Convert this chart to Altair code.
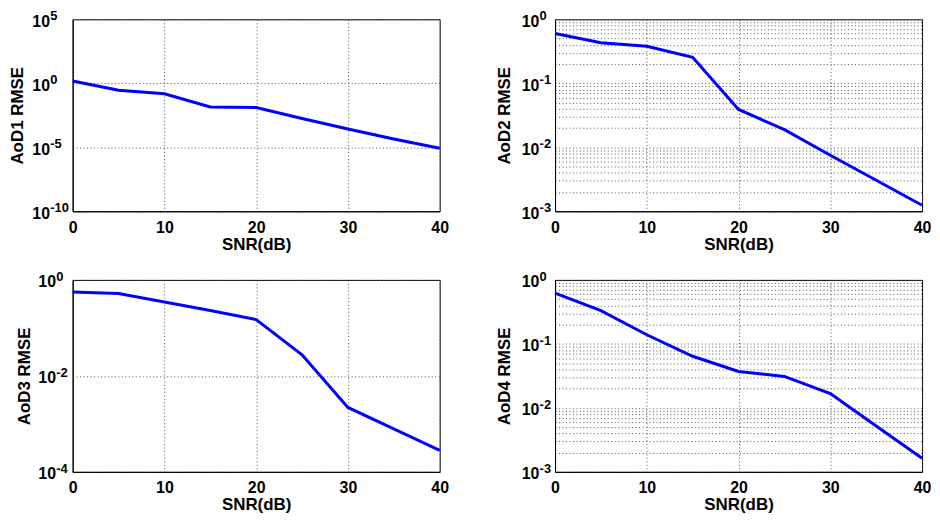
import altair as alt
import pandas as pd

# ---- data ----
SNR_DB = [0, 5, 10, 15, 20, 25, 30, 35, 40]
AOD1_RMSE = [1.5, 0.29, 0.15, 0.014, 0.0126, 0.0018, 2.7e-4, 4.5e-5, 8.3e-6]
AOD2_RMSE = [0.60, 0.43, 0.38, 0.255, 0.039, 0.0189, 0.0075, 0.00305, 0.00124]
AOD3_RMSE = [0.56, 0.52, 0.345, 0.23, 0.149, 0.0276, 0.0022, 7.9e-4, 2.8e-4]
AOD4_RMSE = [0.62, 0.33, 0.139, 0.064, 0.037, 0.031, 0.0167, 0.0052, 0.00163]

X_TICKS = [0, 10, 20, 30, 40]
# exponents of the labelled powers of ten on each y axis
Y1_EXP = [-10, -5, 0, 5]
Y2_EXP = [-3, -2, -1, 0]
Y3_EXP = [-4, -2, 0]
Y4_EXP = [-3, -2, -1, 0]

FONT = "Liberation Sans"
BASE_W = 18.5  # width of the "10" base at 16px bold


def base_label_expr():
    e = "round(log(datum.value)/LN10)"
    return f"abs(log(datum.value)/LN10 - {e}) > 0.001 ? '' : '10'"


def panel(values, name, exps, minor, label_pad, title_pad):
    lo, hi = exps[0], exps[-1]
    if minor:
        yvals = [m * 10.0 ** k for k in range(lo, hi) for m in range(1, 10)] + [10.0 ** hi]
    else:
        yvals = [10.0 ** k for k in exps]
    yscale = alt.Scale(type="log", domain=[10.0 ** lo, 10.0 ** hi], nice=False)
    yaxis = alt.Axis(values=yvals, labelExpr=base_label_expr(), title=name,
                     labelAlign="left", labelBaseline="middle",
                     labelPadding=label_pad, labelOffset=2,
                     titlePadding=title_pad, labelOverlap=False)
    df = pd.DataFrame({"snr": SNR_DB, "rmse": values})
    line = alt.Chart(df).mark_line(color="#0000ff", strokeWidth=3).encode(
        x=alt.X(
            "snr:Q",
            scale=alt.Scale(domain=[0, 40], nice=False),
            axis=alt.Axis(values=X_TICKS, title="SNR(dB)", labelFlush=False,
                          labelPadding=8, titlePadding=1, format="d"),
        ),
        y=alt.Y("rmse:Q", scale=yscale, axis=yaxis),
    )
    sup_df = pd.DataFrame({"v": [10.0 ** k for k in exps], "t": [str(k) for k in exps]})
    sup = alt.Chart(sup_df).mark_text(
        font=FONT, fontSize=13, fontWeight="bold", color="black",
        align="left", baseline="alphabetic", dy=1,
    ).encode(
        y=alt.Y("v:Q", scale=yscale, axis=yaxis),
        x=alt.value(-label_pad + BASE_W),
        text="t:N",
    )
    return alt.layer(line, sup).properties(width=369, height=193)


p1 = panel(AOD1_RMSE, "AoD1 RMSE", Y1_EXP, False, 41, 5)
p2 = panel(AOD2_RMSE, "AoD2 RMSE", Y2_EXP, True, 34, 8)
p3 = panel(AOD3_RMSE, "AoD3 RMSE", Y3_EXP, False, 35, 4)
p4 = panel(AOD4_RMSE, "AoD4 RMSE", Y4_EXP, True, 34, 8)

chart = alt.concat(
    p1, p2, p3, p4, columns=2, spacing={"row": 69, "column": 116}, bounds="flush"
).properties(
    padding={"left": 0, "top": 0, "right": 0, "bottom": 0}
).configure_axis(
    labelFont=FONT, labelFontSize=16, labelFontWeight="bold", labelColor="black",
    titleFont=FONT, titleFontSize=17, titleFontWeight="bold", titleColor="black",
    ticks=False, domainColor="black", domainWidth=1,
    gridColor="#444", gridDash=[1, 2.5], gridWidth=1, gridOpacity=0.9,
    labelBound=False,
).configure_view(stroke="black", strokeWidth=1)

chart.save("out.html", embed_options={"renderer": "svg", "actions": False})
